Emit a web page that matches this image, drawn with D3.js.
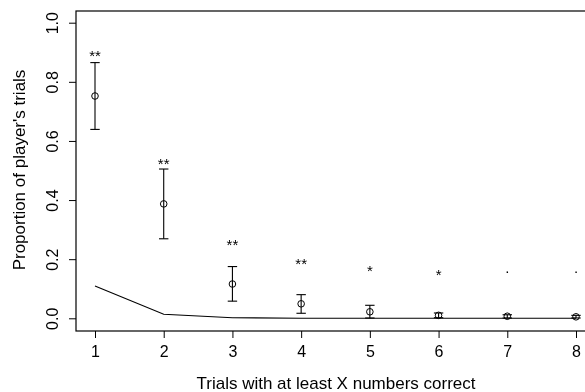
<!DOCTYPE html>
<html>
<head>
<meta charset="utf-8">
<script src="https://cdn.jsdelivr.net/npm/d3@7"></script>
<style>
  body { margin: 0; background: #fff; }
  svg { display: block; font-family: "Liberation Sans", Arial, Helvetica, sans-serif; filter: grayscale(1); }
</style>
</head>
<body>
<svg width="585" height="392"></svg>
<script>
// data
let trials = [1, 2, 3, 4, 5, 6, 7, 8];
let observed = [0.752, 0.387, 0.116, 0.049, 0.022, 0.010, 0.007, 0.005];
let upper = [0.865, 0.505, 0.175, 0.080, 0.044, 0.018, 0.012, 0.010];
let lower = [0.639, 0.269, 0.058, 0.017, 0.001, 0.002, 0.001, 0.001];
let expected = [0.109, 0.0135, 0.002, 0.0003, 0.0001, 0, 0, 0];
let sigLabels = ["**", "**", "**", "**", "*", "*", ".", "."];
let sigY = [0.900, 0.535, 0.262, 0.197, 0.173, 0.159, 0.157, 0.156];
let xTicks = [1, 2, 3, 4, 5, 6, 7, 8];
let yTicks = [0, 0.2, 0.4, 0.6, 0.8, 1.0];

let s = d3.select("svg");

// plot box (right side runs off the picture)
let box = { left: 76, top: 11, right: 596, bottom: 331 };

let x = d3.scaleLinear().domain([1, 8]).range([95, 576]);
let y = d3.scaleLinear().domain([0, 1]).range([318.3, 22.7]);

s.append("rect")
    .attr("x", box.left)
    .attr("y", box.top)
    .attr("width", box.right - box.left)
    .attr("height", box.bottom - box.top)
    .attr("fill", "none")
    .attr("stroke", "#000")
    .attr("stroke-width", 1.2);

// x axis
let xa = s.append("g")
    .attr("transform", "translate(0," + box.bottom + ")")
    .call(d3.axisBottom(x).tickValues(xTicks).tickSize(7).tickPadding(8).tickFormat(d3.format("d")));
xa.select(".domain").remove();
xa.selectAll("line").attr("stroke", "#000");
xa.selectAll("text")
    .attr("font-size", 16)
    .attr("font-family", "Liberation Sans, Arial, sans-serif")
    .attr("fill", "#000");

// y axis, labels parallel to the axis like R
let ya = s.append("g")
    .attr("transform", "translate(" + box.left + ",0)")
    .call(d3.axisLeft(y).tickValues(yTicks).tickSize(7).tickFormat(d3.format(".1f")));
ya.select(".domain").remove();
ya.selectAll("line").attr("stroke", "#000");
ya.selectAll("text")
    .attr("x", null)
    .attr("dy", null)
    .attr("transform", "translate(-18,0) rotate(-90)")
    .attr("text-anchor", "middle")
    .attr("font-size", 16)
    .attr("font-family", "Liberation Sans, Arial, sans-serif")
    .attr("fill", "#000");

// expected line
let line = d3.line()
    .x((d, i) => x(trials[i]))
    .y(d => y(d));

s.append("path")
    .datum(expected)
    .attr("d", line)
    .attr("fill", "none")
    .attr("stroke", "#000")
    .attr("stroke-width", 1.1);

// error bars
let bars = s.append("g").selectAll("g")
    .data(trials)
    .join("g");

bars.append("line")
    .attr("x1", d => x(d)).attr("x2", d => x(d))
    .attr("y1", (d, i) => y(upper[i])).attr("y2", (d, i) => y(lower[i]))
    .attr("stroke", "#000").attr("stroke-width", 1.1);
bars.append("line")
    .attr("x1", d => x(d) - 4.7).attr("x2", d => x(d) + 4.7)
    .attr("y1", (d, i) => y(upper[i])).attr("y2", (d, i) => y(upper[i]))
    .attr("stroke", "#000").attr("stroke-width", 1.1);
bars.append("line")
    .attr("x1", d => x(d) - 4.7).attr("x2", d => x(d) + 4.7)
    .attr("y1", (d, i) => y(lower[i])).attr("y2", (d, i) => y(lower[i]))
    .attr("stroke", "#000").attr("stroke-width", 1.1);

// points
s.append("g").selectAll("circle")
    .data(trials)
    .join("circle")
    .attr("cx", d => x(d))
    .attr("cy", (d, i) => y(observed[i]))
    .attr("r", 3.3)
    .attr("fill", "none")
    .attr("stroke", "#000")
    .attr("stroke-width", 1);

// significance marks (a "." sits on its baseline, stars sit high)
s.append("g").selectAll("text")
    .data(trials)
    .join("text")
    .attr("x", d => x(d))
    .attr("y", (d, i) => y(sigY[i]))
    .attr("dy", (d, i) => sigLabels[i] == "." ? "0.05em" : "0.58em")
    .attr("text-anchor", "middle")
    .attr("font-size", 15)
    .attr("fill", "#000")
    .text((d, i) => sigLabels[i]);

// axis titles
s.append("text")
    .attr("x", 336)
    .attr("y", 389)
    .attr("text-anchor", "middle")
    .attr("font-size", 17)
    .text("Trials with at least X numbers correct");

s.append("text")
    .attr("transform", "translate(25,170) rotate(-90)")
    .attr("text-anchor", "middle")
    .attr("font-size", 17)
    .text("Proportion of player's trials");
</script>
</body>
</html>
